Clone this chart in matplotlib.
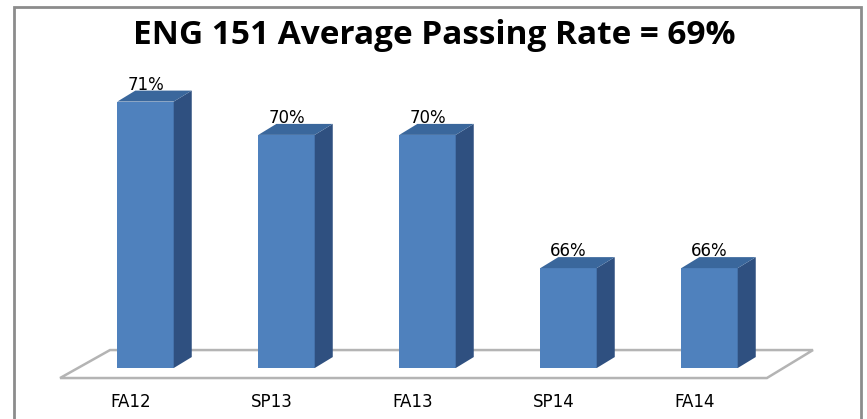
import matplotlib
matplotlib.use("Agg")
import matplotlib.pyplot as plt
from matplotlib.patches import Polygon, Rectangle

# data
terms = ["FA12", "SP13", "FA13", "SP14", "FA14"]
rates = [71, 70, 70, 66, 66]
title = "ENG 151 Average Passing Rate = 69%"

FRONT = "#4F81BD"
SIDE = "#2F5080"
TOP = "#3A679C"
FLOOR = "#B4B4B4"

base = 63.0      # value at the floor
w = 0.40         # bar front width
dx, dy = 0.128, 0.33   # bar depth offset


def main():
    fig = plt.figure(figsize=(8.67, 4.19), dpi=100)
    ax = fig.add_axes([0, 0, 1, 1])
    ax.set_xlim(-1.032, 5.117)
    ax.set_ylim(61.47, 74.05)
    ax.axis("off")

    # floor
    n = len(terms)
    fx0, fx1 = -0.606, n - 1 + 0.407
    fb, ft = base - 0.30, base + 0.54
    floor = Polygon([(fx0, fb), (fx1, fb), (fx1 + 0.327, ft), (fx0 + 0.354, ft)],
                    closed=True, facecolor="white", edgecolor=FLOOR, lw=1.8, zorder=1)
    ax.add_patch(floor)

    for i, (t, v) in enumerate(zip(terms, rates)):
        x0, x1 = i - w / 2, i + w / 2
        front = Polygon([(x0, base), (x1, base), (x1, v), (x0, v)],
                        facecolor=FRONT, edgecolor="none", zorder=3)
        side = Polygon([(x1, base), (x1 + dx, base + dy), (x1 + dx, v + dy), (x1, v)],
                       facecolor=SIDE, edgecolor="none", zorder=3)
        top = Polygon([(x0, v), (x1, v), (x1 + dx, v + dy), (x0 + dx, v + dy)],
                      facecolor=TOP, edgecolor="none", zorder=3)
        for p in (front, side, top):
            ax.add_patch(p)
        ax.text(i, v + dy - 0.1, "%d%%" % v, ha="center", va="bottom",
                fontsize=12, color="black", zorder=4)
        ax.text(i - 0.106, 61.98, t, ha="center", va="center",
                fontsize=12, color="black")

    # chart border
    fig.patches.append(Rectangle((14.5 / 867, -0.05), (861 - 14.5) / 867, 1.05 - 7 / 419,
                                 transform=fig.transFigure, fill=False,
                                 edgecolor="#8C8C8C", lw=2))

    fig.text(434 / 867, 1 - 35 / 419, title, ha="center", va="center",
             fontsize=24, fontweight="bold", family="Open Sans")

    fig.savefig("out.png", dpi=100)


if __name__ == "__main__":
    main()
